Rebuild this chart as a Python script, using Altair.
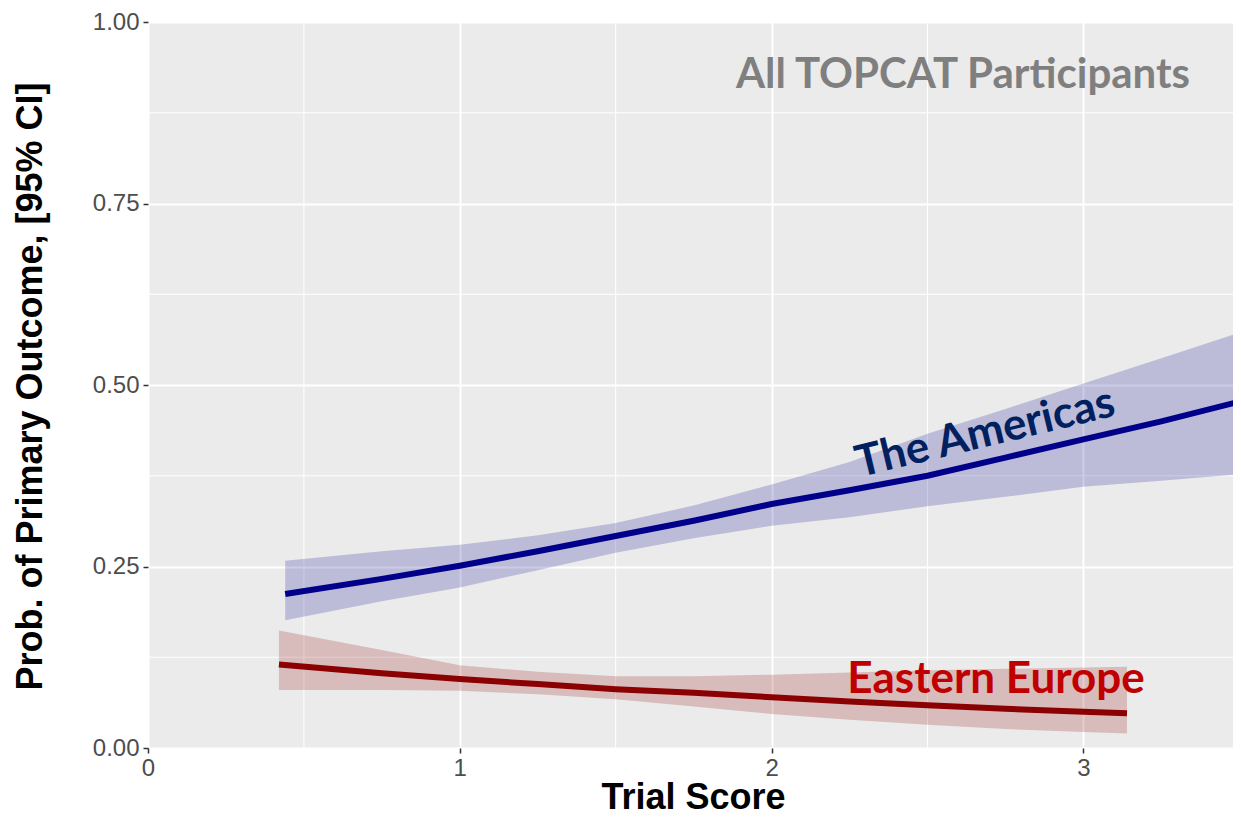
import altair as alt
import pandas as pd

# ---- data ----
am_x = [0.44, 0.75, 1.0, 1.25, 1.5, 1.75, 2.0, 2.25, 2.5, 2.75, 3.0, 3.25, 3.5]
am_fit = [0.212, 0.233, 0.251, 0.271, 0.292, 0.313, 0.336, 0.355, 0.375, 0.400, 0.425, 0.450, 0.477]
am_lo = [0.176, 0.202, 0.221, 0.245, 0.269, 0.289, 0.306, 0.318, 0.333, 0.346, 0.360, 0.368, 0.377]
am_hi = [0.258, 0.271, 0.280, 0.293, 0.310, 0.334, 0.363, 0.394, 0.433, 0.467, 0.502, 0.537, 0.572]

ee_x = [0.42, 0.75, 1.0, 1.25, 1.5, 1.75, 2.0, 2.25, 2.5, 2.75, 3.0, 3.14]
ee_fit = [0.115, 0.103, 0.095, 0.088, 0.081, 0.076, 0.070, 0.064, 0.059, 0.054, 0.050, 0.048]
ee_lo = [0.080, 0.080, 0.079, 0.074, 0.067, 0.057, 0.047, 0.039, 0.032, 0.026, 0.022, 0.020]
ee_hi = [0.162, 0.135, 0.114, 0.105, 0.099, 0.099, 0.101, 0.104, 0.107, 0.109, 0.111, 0.112]

regions = ["The Americas", "Eastern Europe"]
region_colors = ["#00008B", "#8B0000"]

x_ticks = [0, 1, 2, 3]
y_ticks = [0, 0.25, 0.5, 0.75, 1.0]
x_minor = [0.5, 1.5, 2.5]
y_minor = [0.125, 0.375, 0.625, 0.875]

label_text = ["All TOPCAT Participants", "The Americas", "Eastern Europe"]
label_x = [2.614, 2.695, 2.72]
label_y = [0.9095, 0.4156, 0.0754]
label_colors = ["#7F7F7F", "#002060", "#C00000"]
label_angles = [0, 346.5, 0]
label_sizes = [42, 44, 44]

# ---- tables ----
df = pd.concat([
    pd.DataFrame({"x": am_x, "fit": am_fit, "lo": am_lo, "hi": am_hi, "region": regions[0]}),
    pd.DataFrame({"x": ee_x, "fit": ee_fit, "lo": ee_lo, "hi": ee_hi, "region": regions[1]}),
])
xm = pd.DataFrame({"v": x_minor})
ym = pd.DataFrame({"v": y_minor})

FONT = "Liberation Sans"
xscale = alt.Scale(domain=[0, 3.48], nice=False, zero=False)
yscale = alt.Scale(domain=[0, 1], nice=False)
color = alt.Color("region:N", scale=alt.Scale(domain=regions, range=region_colors), legend=None)

xaxis = alt.Axis(values=x_ticks, format="d", title="Trial Score",
                 labelFont=FONT, labelFontSize=24, labelColor="#4D4D4D", labelPadding=3,
                 labelFlush=False, labelOverlap=False,
                 tickColor="#333333", tickSize=5, tickWidth=1.5, domain=False,
                 grid=True, gridColor="white", gridWidth=2,
                 titleFont=FONT, titleFontSize=36, titleFontWeight="bold", titleColor="black",
                 titleX=545, titleY=60, titleBaseline="alphabetic", titleAlign="center")
yaxis = alt.Axis(values=y_ticks, format=".2f", title="Prob. of Primary Outcome, [95% CI]",
                 labelFont=FONT, labelFontSize=24, labelColor="#4D4D4D", labelPadding=4,
                 labelFlush=False, labelOverlap=False,
                 tickColor="#333333", tickSize=5, tickWidth=1.5, domain=False,
                 grid=True, gridColor="white", gridWidth=2,
                 titleFont=FONT, titleFontSize=36, titleFontWeight="bold", titleColor="black",
                 titleX=-107, titleY=364, titleAngle=270, titleBaseline="alphabetic",
                 titleAlign="center")

base = alt.Chart(df)

minor_x = alt.Chart(xm).mark_rule(color="white", strokeWidth=1).encode(
    x=alt.X("v:Q", scale=xscale, axis=xaxis))
minor_y = alt.Chart(ym).mark_rule(color="white", strokeWidth=1).encode(
    y=alt.Y("v:Q", scale=yscale, axis=yaxis))

bands = base.mark_area(opacity=0.2, clip=True).encode(
    x=alt.X("x:Q", scale=xscale, axis=xaxis),
    y=alt.Y("lo:Q", scale=yscale, axis=yaxis),
    y2="hi:Q",
    color=color,
    detail="region:N",
)
lines = base.mark_line(strokeWidth=6, clip=True).encode(
    x=alt.X("x:Q", scale=xscale, axis=xaxis),
    y=alt.Y("fit:Q", scale=yscale, axis=yaxis),
    color=color,
    detail="region:N",
)

texts = []
for t, lx, ly, c, a, s in zip(label_text, label_x, label_y, label_colors, label_angles, label_sizes):
    tdf = pd.DataFrame({"x": [lx], "y": [ly], "t": [t]})
    texts.append(
        alt.Chart(tdf).mark_text(font="Lato", fontSize=s, fontWeight="bold", color=c,
                                 angle=a, align="center", baseline="alphabetic").encode(
            x=alt.X("x:Q", scale=xscale, axis=xaxis),
            y=alt.Y("y:Q", scale=yscale, axis=yaxis),
            text="t:N")
    )

chart = alt.layer(minor_x, minor_y, bands, lines, *texts).properties(
    width=1085, height=726,
    autosize=alt.AutoSizeParams(type="none"),
    padding={"left": 140, "top": 14, "right": 0, "bottom": 64},
).configure_view(fill="#EBEBEB", stroke="transparent")

chart.save("out.html", embed_options={"renderer": "svg", "actions": False})
